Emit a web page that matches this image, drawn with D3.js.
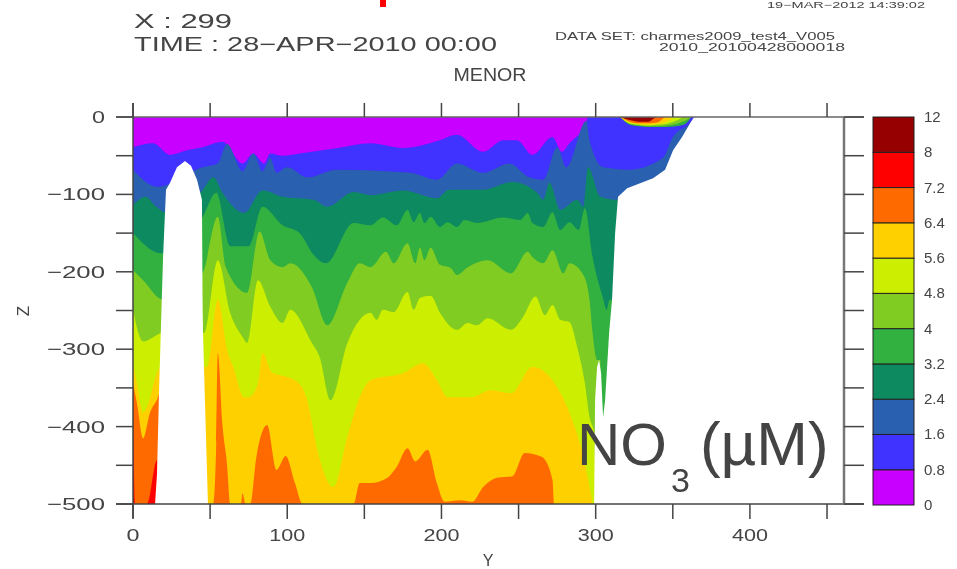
<!DOCTYPE html>
<html>
<head>
<meta charset="utf-8">
<script src="https://cdn.jsdelivr.net/npm/d3@7"></script>
<style>
  html, body { margin: 0; padding: 0; background: #fff; }
  svg { display: block; }
  text { font-family: "Liberation Sans", sans-serif; fill: #444; }
</style>
</head>
<body>
<script>
/* jshint esversion:6 */
// contour depths of NO3, each one with its own Y positions
const c08y = [0,13,24,35,45,58,71,78,85,89,97,108,133,154,175,199,210,227,240,249,259,272,278,283,294,295,364];
const c08z = [-39,-34,-49,-43,-39,-32,-60,-47,-60,-47,-50,-47,-40,-34,-40,-30,-23,-45,-30,-30,-49,-26,-45,-34,-6,0,0];
const c16y = [0,16,45,55,61,71,78,84,89,93,100,113,132,180,197,210,227,244,257,266,275,281,294,296,305,322,344,350,361,364];
const c16z = [-68,-90,-65,-60,-35,-70,-47,-70,-53,-72,-65,-78,-68,-72,-81,-60,-72,-60,-78,-81,-39,-65,-5,-30,-65,-68,-52,-26,-8,0];
const c24y = [0,8,15,21,45,52,58,72,84,97,117,126,143,154,175,197,205,227,246,262,266,270,277,288,292,295,303,314,364];
const c24z = [-114,-103,-116,-123,-95,-78,-98,-124,-95,-103,-107,-116,-97,-101,-95,-105,-94,-94,-84,-98,-107,-85,-120,-107,-116,-65,-103,-107,-107];
const c32y = [0,18,45,54,63,75,84,97,108,117,125,143,154,162,171,178,182,186,189,193,199,204,210,215,223,240,251,256,259,266,272,277,283,289,293,298,305,307,309,320];
const c32z = [-150,-176,-130,-98,-167,-167,-116,-140,-150,-178,-189,-137,-140,-130,-140,-120,-136,-124,-137,-129,-142,-136,-142,-133,-137,-130,-133,-124,-137,-142,-123,-146,-136,-146,-118,-181,-236,-249,-236,-236];
const c40y = [0,6.5,19.5,45,55,60,74,82,89,97,102,116,126,139,147,154,164,169,178,183,186,189,193,199,206,210,217,230,245,256,259,266,272,279,283,292,296,298,301,303,303.5];
const c40z = [-198,-211,-236,-202,-129,-193,-227,-148,-185,-194,-189,-220,-269,-214,-189,-194,-174,-189,-163,-189,-169,-185,-169,-191,-195,-204,-194,-185,-202,-174,-181,-189,-172,-202,-189,-204,-236,-279,-314,-314,-500];
const c48y = [0,6.5,19.5,46,55,63,71,74,81,89,97,102,116,121,128,139,147,154,158,162,169,178,182,186,193,199,210,217,223,230,245,253,261,267,272,277,283,288,293,296,299,300];
const c48z = [-249,-290,-279,-279,-185,-253,-284,-292,-211,-245,-266,-249,-292,-310,-366,-292,-262,-253,-262,-249,-252,-226,-249,-234,-231,-253,-275,-266,-269,-260,-275,-258,-232,-256,-243,-262,-265,-297,-344,-388,-408,-500];
const c56y = [0,2.6,6.5,10,14,20,46,48,55,61,65,72,75,81,84,90,100,108,113,119,130,139,147,154,175,188,197,204,219,232,245,259,275,283,292,298];
const c56z = [-320,-345,-382,-370,-340,-318,-323,-323,-236,-301,-323,-362,-362,-345,-305,-330,-336,-345,-366,-426,-478,-413,-362,-340,-331,-318,-340,-362,-362,-353,-357,-323,-349,-382,-439,-500];
const c64y = [0,2.6,6.5,11,16,20,48,52,54,55,58,61,63,70,71,73,76,80,87,93,99,105,110,143,147,154,165,171,178,183,191,197,202,212,220,227,236,246,254,265,272,273,300];
const c64z = [-344,-370,-415,-382,-363,-340,-500,-500,-420,-305,-398,-450,-500,-500,-486,-500,-500,-439,-398,-456,-438,-473,-500,-500,-473,-473,-466,-452,-428,-445,-430,-473,-497,-495,-497,-478,-466,-464,-434,-439,-469,-500,-500];
const c72y = [0,1.5,9,15.6,16];
const c72z = [-360,-500,-500,-443,-500];

// shallow patch at the surface, top of the shelf
const lensY = [316,322,328,334,340,346,352,358,362];
const lens32 = [0,-10,-12,-13,-13,-13,-12,-9,0];
const lens40 = [0,-9,-11,-12,-12,-11,-9,-5,0];
const lens48 = [0,-8,-10,-11,-10,-9,-5,0,0];
const lens56 = [0,-7,-9,-10,-9,-6,0,0,0];
const lens64 = [0,-6,-8,-8,-7,0,0,0,0];
const lens80 = [0,-4,-6,-6,0,0,0,0,0];

// sea bed, the seamount and the shelf
const hillY = [14.3,15.6,16.9,18.2,19.5,21.4,24,28.5,33.7,37.6,41.5,44.7,45.1,45.4,46.7,48.6];
const hillZ = [-500,-460,-353,-266,-181,-94,-85,-65,-57,-63,-81,-107,-236,-279,-370,-500];
const shelfY = [299,299.6,300.9,302.2,303.5,304.8,306.1,307.4,308.7,310.6,312.6,314.5,320.4,337.2,345,350.2,356,361.2,363.8,461,461];
const shelfZ = [-500,-366,-323,-314,-331,-388,-366,-323,-279,-236,-150,-103,-92,-79,-68,-43,-26,-8,0,0,-500];

const levelLabels = ["0","0.8","1.6","2.4","3.2","4","4.8","5.6","6.4","7.2","8","12"];
const levelColors = ["#c800ff","#4030ff","#2a60b0","#0e8a60","#32b040","#80cc20","#ccee00","#ffd000","#ff6a00","#ff0000","#960000"];
const xTicks = [0,50,100,150,200,250,300,350,400,450];
const xLabels = [0,100,200,300,400];
const zTicks = [0,-50,-100,-150,-200,-250,-300,-350,-400,-450,-500];
const zLabels = [0,-100,-200,-300,-400,-500];

const width = 957, height = 569;
const svg = d3.select("body").append("svg").attr("width",width).attr("height",height);

const defs = svg.append("defs");
defs.append("filter").attr("id","soft").append("feGaussianBlur").attr("stdDeviation",0.6);

const scales = {};
scales.x = d3.scaleLinear().domain([0,461]).range([133,844]);
scales.y = d3.scaleLinear().domain([0,-500]).range([117,504]);

const layers = {};
layers.plot = svg.append("g").attr("filter","url(#soft)");
layers.axes = svg.append("g").attr("filter","url(#soft)");
layers.text = svg.append("g").attr("filter","url(#soft)");

const areaDown = d3.area()
  .curve(d3.curveMonotoneX)
  .x(d => scales.x(d[0]))
  .y0(scales.y(-500))
  .y1(d => scales.y(d[1]));
const areaTop = d3.area()
  .curve(d3.curveMonotoneX)
  .x(d => scales.x(d[0]))
  .y0(scales.y(0))
  .y1(d => scales.y(d[1]));
const outline = d3.line()
  .x(d => scales.x(d[0]))
  .y(d => scales.y(d[1]));

// bands from the surface down, each painted over the one before
layers.plot.append("rect")
  .attr("x",scales.x(0))
  .attr("y",scales.y(0))
  .attr("width",scales.x(364)-scales.x(0))
  .attr("height",scales.y(-500)-scales.y(0))
  .attr("fill",levelColors[0]);

const contours = [[c08y,c08z,1],[c16y,c16z,2],[c24y,c24z,3],[c32y,c32z,4],[c40y,c40z,5],[c48y,c48z,6],[c56y,c56z,7],[c64y,c64z,8],[c72y,c72z,9]];
contours.forEach(function(c) {
  layers.plot.append("path")
    .datum(d3.zip(c[0],c[1]))
    .attr("fill",levelColors[c[2]])
    .attr("d",areaDown);
});

const lenses = [[lens32,4],[lens40,5],[lens48,6],[lens56,7],[lens64,8],[lens80,10]];
lenses.forEach(function(l) {
  layers.plot.append("path")
    .datum(d3.zip(lensY,l[0]))
    .attr("fill",levelColors[l[1]])
    .attr("d",areaTop);
});

[[hillY,hillZ],[shelfY,shelfZ]].forEach(function(b) {
  layers.plot.append("path")
    .datum(d3.zip(b[0],b[1]))
    .attr("fill","#fff")
    .attr("d",outline);
});

// frame and ticks
function rule(x1,y1,x2,y2,w,color) {
  layers.axes.append("line")
    .attr("x1",x1).attr("y1",y1).attr("x2",x2).attr("y2",y2)
    .attr("stroke",color || "#444")
    .attr("stroke-width",w || 1.5);
}
rule(116,scales.y(0),864,scales.y(0),1.5,"#666");
rule(116,scales.y(-500),864,scales.y(-500));
rule(scales.x(0),103,scales.x(0),518);
rule(scales.x(461),scales.y(0),scales.x(461),scales.y(-500),2.5,"#777");

xTicks.forEach(function(t) {
  rule(scales.x(t),103,scales.x(t),117);
  rule(scales.x(t),504,scales.x(t),519);
});
zTicks.forEach(function(t) {
  rule(116,scales.y(t),scales.x(0),scales.y(t));
  rule(scales.x(461),scales.y(t),864,scales.y(t));
});

function label(s,x,y,size,anchor,len) {
  const t = layers.text.append("text")
    .attr("x",x).attr("y",y)
    .attr("font-size",size)
    .attr("text-anchor",anchor || "start")
    .text(s);
  if(len) t.attr("textLength",len).attr("lengthAdjust","spacingAndGlyphs");
  return t;
}

xLabels.forEach(function(t) {
  label(String(t),scales.x(t),541,17,"middle",t == 0 ? 13 : 36);
});
zLabels.forEach(function(t) {
  label(t == 0 ? "0" : "\u2212" + Math.abs(t),105,scales.y(t)+6,17,"end",t == 0 ? 13 : 58);
});

label("Y",488,566,16,"middle");
label("Z",0,0,17,"middle").attr("transform","translate(29,311) rotate(-90)");

label("X : 299",134,28,20,"start",98);
label("TIME : 28\u2212APR\u22122010 00:00",134,51,20,"start",363);
label("MENOR",490,81,18,"middle",73);
label("DATA SET: charmes2009_test4_V005",555,40,11,"start",280);
label("2010_20100428000018",659,51,11,"start",186);
label("19\u2212MAR\u22122012 14:39:02",767,8,9,"start",158);

// colour bar
const barY = d3.scaleLinear().domain([0,levelColors.length]).range([505,117]);
layers.axes.selectAll("rect.band")
  .data(levelColors)
  .enter()
  .append("rect")
  .classed("band",true)
  .attr("x",873)
  .attr("width",41)
  .attr("y",(d,i) => barY(i+1))
  .attr("height",(d,i) => barY(i)-barY(i+1))
  .attr("fill",d => d)
  .attr("stroke","#222")
  .attr("stroke-width",1);

levelLabels.forEach(function(s,i) {
  label(s,924,barY(i)+5,15,"start");
});

// hand written caption, sharper than the rest
const caption = svg.append("text")
  .attr("x",577)
  .attr("y",465)
  .attr("font-size",60)
  .style("fill","#444");
caption.append("tspan").text("NO");
caption.append("tspan").attr("font-size",34).attr("dx",4).attr("dy",27).text("3");
caption.append("tspan").attr("dx",10).attr("dy",-27).attr("font-size",62).text("(\u00b5M)");

// red mark at the top edge
svg.append("rect")
  .attr("x",380).attr("y",0)
  .attr("width",6).attr("height",7)
  .attr("fill","#f00");
</script>
</body>
</html>
